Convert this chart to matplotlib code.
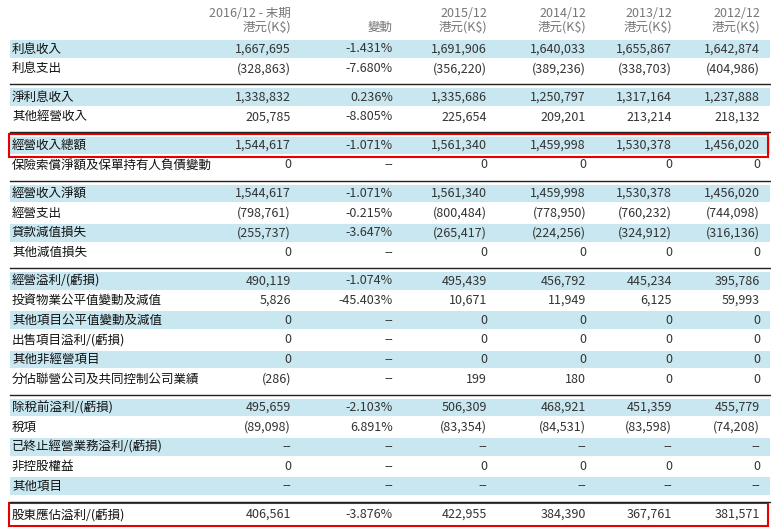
import matplotlib
matplotlib.use("Agg")
import matplotlib.pyplot as plt
from matplotlib import font_manager
from matplotlib.patches import Rectangle

# pick whichever CJK font is actually registered
cjk = [f.name for f in font_manager.fontManager.ttflist if "CJK" in f.name]
prefer = [n for n in ["Noto Sans CJK TC", "Noto Sans CJK JP", "Noto Sans CJK SC"] if n in cjk]
plt.rcParams["font.family"] = (prefer or cjk[:1]) + ["DejaVu Sans"]

headers = ["2016/12 - 末期\n港元(K$)", "變動", "2015/12\n港元(K$)", "2014/12\n港元(K$)",
           "2013/12\n港元(K$)", "2012/12\n港元(K$)"]

labels = [
    ["利息收入", "利息支出"],
    ["淨利息收入", "其他經營收入"],
    ["經營收入總額", "保險索償淨額及保單持有人負債變動"],
    ["經營收入淨額", "經營支出", "貸款減值損失", "其他減值損失"],
    ["經營溢利/(虧損)", "投資物業公平值變動及減值", "其他項目公平值變動及減值",
     "出售項目溢利/(虧損)", "其他非經營項目", "分佔聯營公司及共同控制公司業績"],
    ["除稅前溢利/(虧損)", "稅項", "已終止經營業務溢利/(虧損)", "非控股權益", "其他項目"],
    ["股東應佔溢利/(虧損)"],
]

values = [
    [["1,667,695", "-1.431%", "1,691,906", "1,640,033", "1,655,867", "1,642,874"],
     ["(328,863)", "-7.680%", "(356,220)", "(389,236)", "(338,703)", "(404,986)"]],
    [["1,338,832", "0.236%", "1,335,686", "1,250,797", "1,317,164", "1,237,888"],
     ["205,785", "-8.805%", "225,654", "209,201", "213,214", "218,132"]],
    [["1,544,617", "-1.071%", "1,561,340", "1,459,998", "1,530,378", "1,456,020"],
     ["0", "--", "0", "0", "0", "0"]],
    [["1,544,617", "-1.071%", "1,561,340", "1,459,998", "1,530,378", "1,456,020"],
     ["(798,761)", "-0.215%", "(800,484)", "(778,950)", "(760,232)", "(744,098)"],
     ["(255,737)", "-3.647%", "(265,417)", "(224,256)", "(324,912)", "(316,136)"],
     ["0", "--", "0", "0", "0", "0"]],
    [["490,119", "-1.074%", "495,439", "456,792", "445,234", "395,786"],
     ["5,826", "-45.403%", "10,671", "11,949", "6,125", "59,993"],
     ["0", "--", "0", "0", "0", "0"],
     ["0", "--", "0", "0", "0", "0"],
     ["0", "--", "0", "0", "0", "0"],
     ["(286)", "--", "199", "180", "0", "0"]],
    [["495,659", "-2.103%", "506,309", "468,921", "451,359", "455,779"],
     ["(89,098)", "6.891%", "(83,354)", "(84,531)", "(83,598)", "(74,208)"],
     ["--", "--", "--", "--", "--", "--"],
     ["0", "--", "0", "0", "0", "0"],
     ["--", "--", "--", "--", "--", "--"]],
    [["406,561", "-3.876%", "422,955", "384,390", "367,761", "381,571"]],
]

boxed = {(2, 0), (6, 0)}

col_x = [291, 393, 487, 586, 672, 760]
row_h = 19.6
gap = 9
fs = 9

fig = plt.figure(figsize=(7.71, 5.28), dpi=100)
ax = fig.add_axes([0, 0, 1, 1])
ax.set_xlim(0, 771)
ax.set_ylim(528, 0)
ax.axis("off")

for x, h in zip(col_x, headers):
    ax.text(x, 34, h, ha="right", va="bottom", fontsize=fs, color="#777777", linespacing=1.1)

y = 49
for g, (labs, vals) in enumerate(zip(labels, values)):
    for i, (lab, row) in enumerate(zip(labs, vals)):
        if i % 2 == 0 and g != 6:
            ax.add_patch(Rectangle((10, y - row_h / 2 + 1), 760, row_h - 2, color="#c9e7f0", lw=0))
        if (g, i) in boxed:
            ax.add_patch(Rectangle((9, y - row_h / 2 - 2), 759, row_h + 4, fill=False,
                                   ec="#e60000", lw=1.5))
        ax.text(12, y, lab, ha="left", va="center", fontsize=fs, color="#111111")
        for x, v in zip(col_x, row):
            ax.text(x, y, v, ha="right", va="center", fontsize=fs, color="#333333")
        y += row_h
    if g < len(labels) - 1:
        ax.plot([10, 770], [y - 4, y - 4], color="#222222", lw=1)
        y += gap

fig.savefig("out.png", dpi=100)
